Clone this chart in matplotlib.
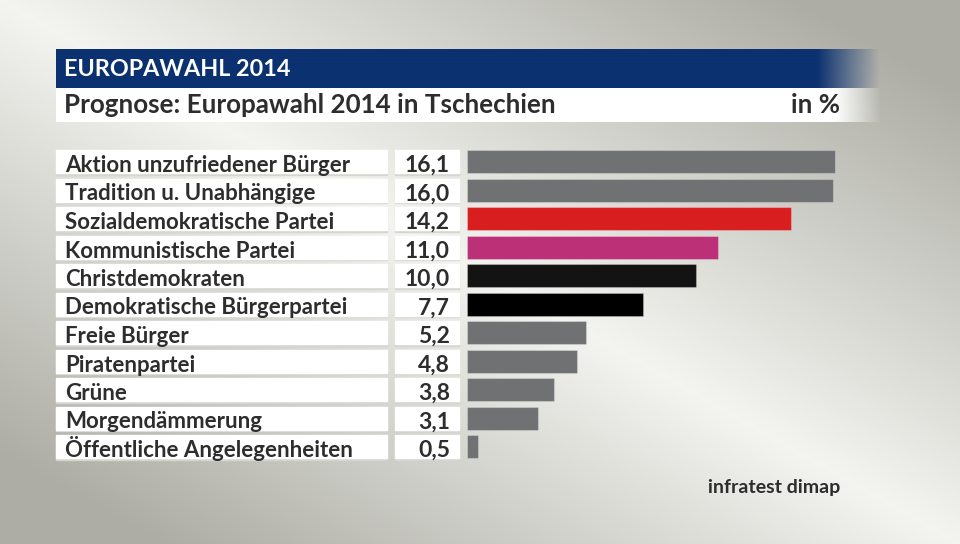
import numpy as np
import matplotlib
matplotlib.use("Agg")
import matplotlib.pyplot as plt
from matplotlib.patches import Rectangle

# Data
parties = ["Aktion unzufriedener Bürger", "Tradition u. Unabhängige",
           "Sozialdemokratische Partei", "Kommunistische Partei",
           "Christdemokraten", "Demokratische Bürgerpartei", "Freie Bürger",
           "Piratenpartei", "Grüne", "Morgendämmerung",
           "Öffentliche Angelegenheiten"]
values = [16.1, 16.0, 14.2, 11.0, 10.0, 7.7, 5.2, 4.8, 3.8, 3.1, 0.5]
bar_colors = ["#707173", "#707173", "#d81e1e", "#bb3077", "#131313", "#000000",
              "#707173", "#707173", "#707173", "#707173", "#707173"]
header = "EUROPAWAHL 2014"
title = "Prognose: Europawahl 2014 in Tschechien"
unit = "in %"
source = "infratest dimap"

plt.rcParams['font.family'] = ['Lato', 'DejaVu Sans']
txt_color = "#2d2d2d"

W, H = 960, 544
fig = plt.figure(figsize=(9.6, 5.44), dpi=100)
bg = fig.add_axes([0, 0, 1, 1])
bg.set_xlim(0, W)
bg.set_ylim(H, 0)
bg.axis("off")

# background: light along the diagonal, darker towards top-right / bottom-left
xx, yy = np.meshgrid(np.linspace(0, 1, W), np.linspace(0, 1, H))
d = np.clip(np.abs(xx - yy) * 1.2, 0, 1) ** 1.0
light = np.array([0.955, 0.955, 0.94])
dark = np.array([0.68, 0.68, 0.65])
img = light[None, None, :] * (1 - d[..., None]) + dark[None, None, :] * d[..., None]
bg.imshow(img, extent=(0, W, H, 0), aspect="auto", zorder=0)


def faded_band(x0, x1, y0, y1, rgb, fade_start, fade_end):
    xs = np.linspace(x0, x1, int(x1 - x0))
    alpha = np.clip((fade_end - xs) / (fade_end - fade_start), 0, 1)
    arr = np.zeros((2, len(xs), 4))
    arr[..., :3] = matplotlib.colors.to_rgb(rgb)
    arr[..., 3] = alpha[None, :]
    bg.imshow(arr, extent=(x0, x1, y1, y0), aspect="auto", zorder=1,
              interpolation="bilinear")


faded_band(56, 880, 49, 88, "#0b3170", 818, 880)
faded_band(56, 880, 88, 122, "#ffffff", 835, 882)
bg.set_xlim(0, W)
bg.set_ylim(H, 0)

bg.text(64, 69, header, color="white", fontsize=16.8, fontweight="bold",
        va="center", ha="left", zorder=3)
bg.text(64, 105, title, color=txt_color, fontsize=18.7, fontweight="bold",
        va="center", ha="left", zorder=3)
bg.text(840, 105, unit, color=txt_color, fontsize=18.7, fontweight="bold",
        va="center", ha="right", zorder=3)
bg.text(840, 487, source, color=txt_color, fontsize=14, fontweight="bold",
        va="center", ha="right", zorder=3)

# label and value boxes
pitch = 28.5
for i, (name, v) in enumerate(zip(parties, values)):
    yc = 161.5 + i * pitch
    top = yc - 11.5
    for x0, w in [(56, 331), (395, 64)]:
        bg.add_patch(Rectangle((x0, top + 1.5), w, 23, color="#d6d6d0", zorder=2))
        box = Rectangle((x0, top), w, 23, color="white", zorder=2)
        bg.add_patch(box)
        if x0 == 56:
            t = bg.text(65, yc + 10.5, name, color=txt_color, fontsize=16,
                        fontweight="bold", va="baseline", ha="left", zorder=3)
        else:
            t = bg.text(450, yc + 10.5, f"{v:.1f}".replace(".", ","),
                        color=txt_color, fontsize=16.5, fontweight="bold",
                        va="baseline", ha="right", zorder=3)
        t.set_clip_path(box)

# bars
px_per_unit = 22.85
ax_left, ax_right = 467, 880
ax_top = 161.5 - pitch / 2
ax_bottom = 161.5 + 10 * pitch + pitch / 2
ax = fig.add_axes([ax_left / W, 1 - ax_bottom / H,
                   (ax_right - ax_left) / W, (ax_bottom - ax_top) / H])
ax.patch.set_alpha(0)
ypos = np.arange(len(values))
ax.barh(ypos, values, height=23 / pitch, color=bar_colors,
        edgecolor=(1, 1, 1, 0.25), linewidth=0.8)
ax.set_xlim(0, (ax_right - ax_left) / px_per_unit)
ax.set_ylim(len(values) - 0.5, -0.5)
ax.axis("off")

fig.savefig("out.png", dpi=100)
